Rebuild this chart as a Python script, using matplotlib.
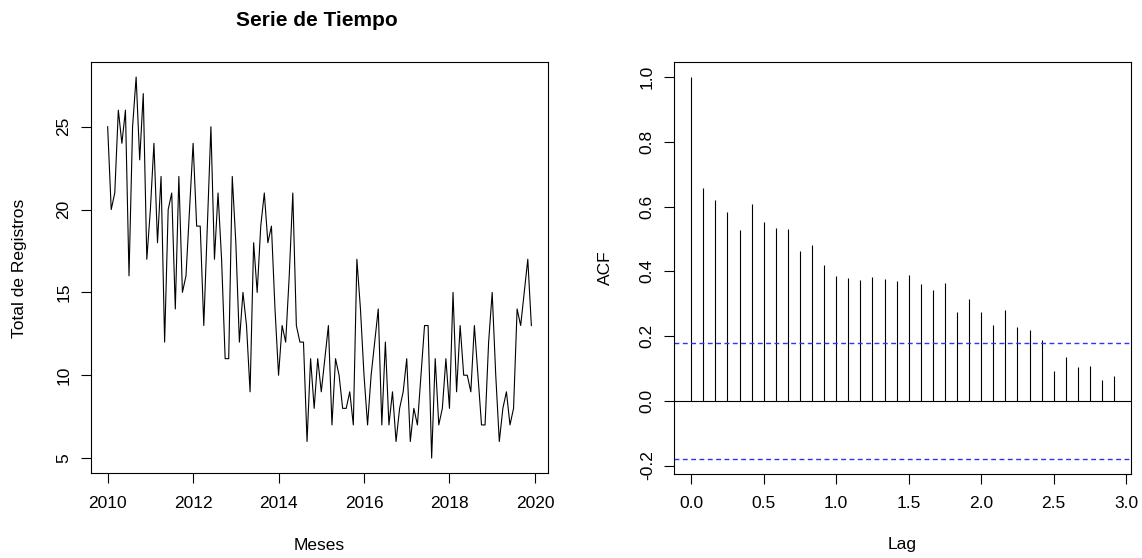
import numpy as np
import matplotlib
matplotlib.use('Agg')
from matplotlib import pyplot as plt

plt.rcParams['font.family'] = ['Liberation Sans', 'DejaVu Sans']

# Serie mensual 2010-01 .. 2019-12
registros = [25, 20, 21, 26, 24, 26, 16, 25, 28, 23, 27, 17,
             20, 24, 18, 22, 12, 20, 21, 14, 22, 15, 16, 20,
             24, 19, 19, 13, 19, 25, 17, 21, 17, 11, 11, 22,
             18, 12, 15, 13, 9, 18, 15, 19, 21, 18, 19, 14,
             10, 13, 12, 16, 21, 13, 12, 12, 6, 11, 8, 11,
             9, 11, 13, 7, 11, 10, 8, 8, 9, 7, 17, 14,
             10, 7, 10, 12, 14, 7, 12, 7, 9, 6, 8, 9,
             11, 6, 8, 7, 10, 13, 13, 5, 11, 7, 8, 11,
             8, 15, 9, 13, 10, 10, 9, 13, 10, 7, 7, 12,
             15, 10, 6, 8, 9, 7, 8, 14, 13, 15, 17, 13]
inicio = 2010

# ACF (lags 0..35, en años)
acf_vals = [1.0, 0.656, 0.619, 0.582, 0.529, 0.609, 0.552, 0.534, 0.532,
            0.462, 0.480, 0.419, 0.384, 0.380, 0.374, 0.382, 0.376, 0.370,
            0.390, 0.361, 0.342, 0.363, 0.273, 0.313, 0.275, 0.234, 0.280,
            0.227, 0.218, 0.189, 0.091, 0.136, 0.104, 0.106, 0.064, 0.076]

y = np.array(registros)
t = inicio + np.arange(len(y)) / 12.0
acf = np.array(acf_vals)
lags = np.arange(len(acf)) / 12.0
clim = 1.96 / np.sqrt(len(y))


def r_lim(lo, hi):
    # como R: 4% de margen a cada lado
    d = (hi - lo) * 0.04
    return lo - d, hi + d


def r_style(ax):
    for s in ax.spines.values():
        s.set_linewidth(0.8)
        s.set_color('black')
    ax.tick_params(direction='out', length=7.5, width=0.8, labelsize=12.5)
    ax.tick_params(axis='x', pad=8.5)
    ax.tick_params(axis='y', pad=6.5)
    for lab in ax.get_yticklabels():
        lab.set_rotation(90)
        lab.set_va('center')


fig = plt.figure(figsize=(11.42, 5.58), dpi=100)
W, H = 1142.0, 558.0

ax1 = fig.add_axes([90.7 / W, 1 - 473.3 / H, (548.3 - 90.7) / W, (473.3 - 61.8) / H])
ax1.plot(t, y, color='black', lw=0.8)
ax1.set_xlim(*r_lim(t.min(), t.max()))
ax1.set_ylim(*r_lim(y.min(), y.max()))
ax1.set_xticks([2010, 2012, 2014, 2016, 2018, 2020])
ax1.set_yticks([5, 10, 15, 20, 25])
r_style(ax1)

fig.text(317 / W, 1 - 20 / H, 'Serie de Tiempo', ha='center', va='center',
         fontsize=15, fontweight='bold')
fig.text(319 / W, 1 - 545 / H, 'Meses', ha='center', va='center', fontsize=12.5)
fig.text(20 / W, 1 - 268 / H, 'Total de Registros', ha='center', va='center',
         fontsize=12.5, rotation=90)

ax2 = fig.add_axes([674.3 / W, 1 - 474 / H, (1131 - 674.3) / W, (474 - 61.8) / H])
ax2.vlines(lags, 0, acf, color='black', lw=0.8)
ax2.axhline(0, color='black', lw=0.8)
ax2.axhline(clim, color='#3030ff', lw=1.0, ls=(0, (3.5, 2.5)))
ax2.axhline(-clim, color='#3030ff', lw=1.0, ls=(0, (3.5, 2.5)))
ax2.set_xlim(*r_lim(lags.min(), lags.max()))
ax2.set_ylim(*r_lim(min(-clim, acf.min()), max(clim, acf.max())))
ax2.set_xticks(np.arange(0, 3.01, 0.5))
ax2.set_yticks(np.arange(-0.2, 1.01, 0.2))
ax2.set_xticklabels(['%.1f' % v for v in np.arange(0, 3.01, 0.5)])
ax2.set_yticklabels(['%.1f' % v for v in np.arange(-0.2, 1.01, 0.2)])
r_style(ax2)

fig.text(902 / W, 1 - 545 / H, 'Lag', ha='center', va='center', fontsize=12.5)
fig.text(605 / W, 1 - 268 / H, 'ACF', ha='center', va='center',
         fontsize=12.5, rotation=90)

fig.savefig('out.png', dpi=100)
